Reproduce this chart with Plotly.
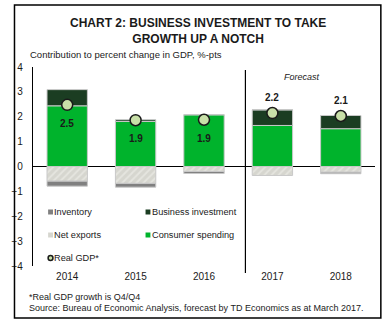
import plotly.graph_objects as go

years = ["2014", "2015", "2016", "2017", "2018"]
consumer = [2.44, 1.81, 2.08, 1.65, 1.52]
business = [0.65, 0.07, 0.0, 0.63, 0.53]
net_exports = [-0.59, -0.68, -0.20, -0.36, -0.23]
inventory = [-0.20, -0.15, -0.08, 0.0, -0.06]
real_gdp = [2.48, 1.86, 1.88, 2.15, 2.03]
gdp_labels = ["2.5", "1.9", "1.9", "2.2", "2.1"]
forecast_flags = [False, False, False, True, True]

W, H = 386, 324
ML, MR, MT, MB = 24, 11, 67, 58
PW, PH = W - ML - MR, H - MT - MB
FONT = "Liberation Sans, Arial, sans-serif"


def px2x(px):
    return (px - ML) / PW


def px2y(py):
    return (H - MB - py) / PH


outline = dict(color="#c8c8c8", width=1)
fig = go.Figure()
fig.add_trace(go.Bar(x=years, y=consumer, name="Consumer spending",
                     marker=dict(color="#00b32c", line=outline)))
fig.add_trace(go.Bar(x=years, y=business, name="Business investment",
                     marker=dict(color="#1b3d22", line=outline)))
fig.add_trace(go.Bar(x=years, y=net_exports, name="Net exports",
                     marker=dict(color="#d6d6cf", line=outline,
                                 pattern=dict(shape="/", fgcolor="#f4f4ef",
                                              bgcolor="#d6d6cf", size=5,
                                              solidity=0.35))))
fig.add_trace(go.Bar(x=years, y=inventory, name="Inventory",
                     marker=dict(color="#808080", line=outline)))
fig.add_trace(go.Scatter(x=years, y=real_gdp, mode="markers", name="Real GDP*",
                         marker=dict(size=11, color="#c8e0a8",
                                     line=dict(color="#1a1a1a", width=1.5))))

annotations = []
for i, (g, lab, fc) in enumerate(zip(real_gdp, gdp_labels, forecast_flags)):
    annotations.append(dict(x=i, y=g + (0.62 if fc else -0.75), xref="x", yref="y",
                            xanchor="center", yanchor="middle",
                            text="<b>" + lab + "</b>", showarrow=False,
                            font=dict(size=10, color="#1a1a1a", family=FONT)))


def note(px, py, text, size=10, xanchor="left", **kw):
    return dict(x=px2x(px), y=px2y(py), xref="paper", yref="paper", showarrow=False,
                xanchor=xanchor, yanchor="middle", text=text, borderpad=0,
                font=dict(size=size, color="#1a1a1a", family=FONT), **kw)


annotations += [
    note(193, 31, "<b>CHART 2: BUSINESS INVESTMENT TO TAKE<br>GROWTH UP A NOTCH</b>",
         size=12, xanchor="center", align="center"),
    note(20, 55, "Contribution to percent change in GDP, %-pts", size=9.5),
    note(300, 77, "<i>Forecast</i>", size=9, xanchor="center"),
    note(19, 297, "*Real GDP growth is Q4/Q4", size=9),
    note(19, 308, "Source: Bureau of Economic Analysis, forecast by TD Economics as at March 2017.", size=9),
]

# manual legend
legend_items = [
    ("Inventory", 42, 212, "sq", "#808080"),
    ("Business investment", 142, 212, "sq", "#1b3d22"),
    ("Net exports", 42, 235, "sq", "#d6d6cf"),
    ("Consumer spending", 142, 235, "sq", "#00b32c"),
    ("Real GDP*", 42, 258, "circ", "#c8e0a8"),
]
shapes = []
for name, lx, ly, kind, col in legend_items:
    if kind == "sq":
        shapes.append(dict(type="rect", xref="paper", yref="paper",
                           x0=px2x(lx - 2.5), x1=px2x(lx + 2.5), y0=px2y(ly + 2.5), y1=px2y(ly - 2.5),
                           fillcolor=col, line=dict(width=0)))
    else:
        shapes.append(dict(type="circle", xref="paper", yref="paper",
                           x0=px2x(lx - 2.5), x1=px2x(lx + 2.5), y0=px2y(ly + 2.5), y1=px2y(ly - 2.5),
                           fillcolor=col, line=dict(color="#1a1a1a", width=1.5)))
    annotations.append(note(lx + 3, ly, name, size=9.2))

# forecast divider
shapes.append(dict(type="line", xref="paper", yref="paper",
                   x0=px2x(242), x1=px2x(242), y0=px2y(70), y1=px2y(273),
                   line=dict(color="black", width=1.2)))
# outer border
shapes.append(dict(type="rect", xref="paper", yref="paper",
                   x0=px2x(5), x1=px2x(381), y0=px2y(318), y1=px2y(5),
                   line=dict(color="black", width=1.5), fillcolor="rgba(0,0,0,0)"))

fig.update_layout(
    width=W, height=H,
    margin=dict(l=ML, r=MR, t=MT, b=MB),
    barmode="relative", bargap=0.41,
    showlegend=False,
    paper_bgcolor="white", plot_bgcolor="white",
    font=dict(family=FONT, size=10, color="#1a1a1a"),
    annotations=annotations, shapes=shapes,
    xaxis=dict(type="category", range=[-0.5, 4.5], showline=False, showgrid=False,
               zeroline=False, ticks="", tickfont=dict(size=10), ticklabelstandoff=3),
    yaxis=dict(range=[-4, 4], tickvals=[-4, -3, -2, -1, 0, 1, 2, 3, 4],
               showgrid=False, showline=True, linecolor="black", linewidth=1.2,
               zeroline=True, zerolinecolor="black", zerolinewidth=1.2,
               ticks="", tickfont=dict(size=10), ticklabelstandoff=7),
)

fig.write_html("out.html")
